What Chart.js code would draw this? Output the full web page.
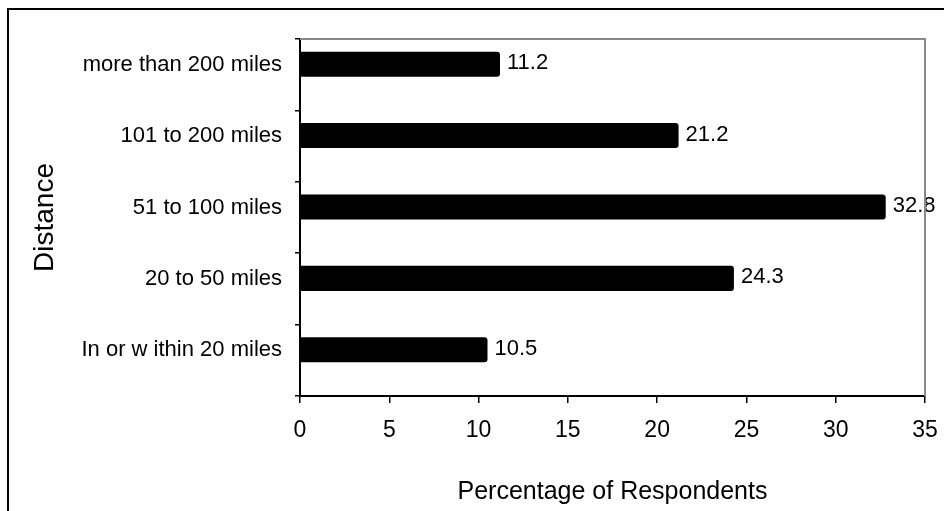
<!DOCTYPE html>
<html>
<head>
<meta charset="utf-8">
<script src="https://cdn.jsdelivr.net/npm/chart.js@4.4.1/dist/chart.umd.min.js"></script>
<style>
  html, body { margin: 0; padding: 0; background: #fff; }
  #wrap { width: 944px; height: 511px; position: relative; }
</style>
</head>
<body>
<div id="wrap"><canvas id="c" width="944" height="511"></canvas></div>
<script>
// Distance bands, listed top to bottom
const distanceBands = [
  'more than 200 miles',
  '101 to 200 miles',
  '51 to 100 miles',
  '20 to 50 miles',
  'In or w ithin 20 miles'
];
// Share of respondents (%) in each band
const respondentShare = [11.2, 21.2, 32.8, 24.3, 10.5];
// Empty companion series: holds the lower slot of each category
const emptySlot = [null, null, null, null, null];
// Value axis ticks
const percentTicks = [0, 5, 10, 15, 20, 25, 30, 35];

const FONT = '"Liberation Sans", Arial, Helvetica, sans-serif';
Chart.defaults.font.family = FONT;
Chart.defaults.color = '#000';

const decorations = {
  id: 'decorations',
  beforeDraw(chart) {
    const ctx = chart.ctx;
    ctx.save();
    ctx.fillStyle = '#fff';
    ctx.fillRect(0, 0, chart.width, chart.height);
    // outer frame (left and top edges)
    ctx.strokeStyle = '#000';
    ctx.lineWidth = 2;
    ctx.beginPath();
    ctx.moveTo(8, chart.height);
    ctx.lineTo(8, 9);
    ctx.lineTo(chart.width, 9);
    ctx.stroke();
    ctx.restore();
  },
  afterDatasetsDraw(chart) {
    const ctx = chart.ctx;
    const meta = chart.getDatasetMeta(0);
    ctx.save();
    ctx.font = '22px ' + FONT;
    ctx.fillStyle = '#000';
    ctx.textAlign = 'left';
    ctx.textBaseline = 'middle';
    meta.data.forEach((bar, i) => {
      ctx.fillText(respondentShare[i].toFixed(1), bar.x + 7, bar.y - 1);
    });
    ctx.restore();
  },
  afterDraw(chart) {
    // grey plot-area edges on top and right
    const { ctx, chartArea: a } = chart;
    ctx.save();
    ctx.strokeStyle = '#888';
    ctx.lineWidth = 2;
    ctx.beginPath();
    ctx.moveTo(a.left, a.top);
    ctx.lineTo(a.right, a.top);
    ctx.lineTo(a.right, a.bottom);
    ctx.stroke();
    ctx.restore();
  }
};

new Chart(document.getElementById('c'), {
  type: 'bar',
  data: {
    labels: distanceBands,
    datasets: [
      {
        label: 'Percentage of Respondents',
        data: respondentShare,
        backgroundColor: '#000',
        borderRadius: 3,
        categoryPercentage: 0.59,
        barPercentage: 1.19
      },
      {
        label: '',
        data: emptySlot,
        backgroundColor: 'rgba(0,0,0,0)',
        categoryPercentage: 0.59,
        barPercentage: 1.19
      }
    ]
  },
  options: {
    indexAxis: 'y',
    responsive: false,
    animation: false,
    devicePixelRatio: 1,
    layout: { padding: { top: 39, right: 19, left: 0, bottom: 0 } },
    plugins: {
      legend: { display: false },
      tooltip: { enabled: false }
    },
    scales: {
      x: {
        min: percentTicks[0],
        max: percentTicks[percentTicks.length - 1],
        ticks: {
          stepSize: percentTicks[1] - percentTicks[0],
          color: '#000',
          font: { size: 23 },
          padding: 14
        },
        grid: {
          drawOnChartArea: false,
          drawTicks: true,
          tickLength: 7,
          color: '#000',
          lineWidth: 1.5
        },
        border: { color: '#000', width: 2 },
        title: {
          display: true,
          text: 'Percentage of Respondents',
          color: '#000',
          font: { size: 25 },
          padding: { top: 22 }
        },
        afterFit(scale) {
          scale.height = 115;
          scale.paddingLeft = 0;
          scale.paddingRight = 0;
        }
      },
      y: {
        ticks: {
          color: '#000',
          font: { size: 22 },
          padding: 13,
          labelOffset: -10
        },
        grid: {
          drawOnChartArea: false,
          drawTicks: true,
          tickLength: 5,
          color: '#000',
          lineWidth: 1.5,
          offset: true
        },
        border: { color: '#000', width: 2 },
        title: {
          display: true,
          text: 'Distance',
          color: '#000',
          font: { size: 28 },
          padding: { top: 28 }
        },
        afterFit(scale) { scale.width = 300; }
      }
    }
  },
  plugins: [decorations]
});
</script>
</body>
</html>
